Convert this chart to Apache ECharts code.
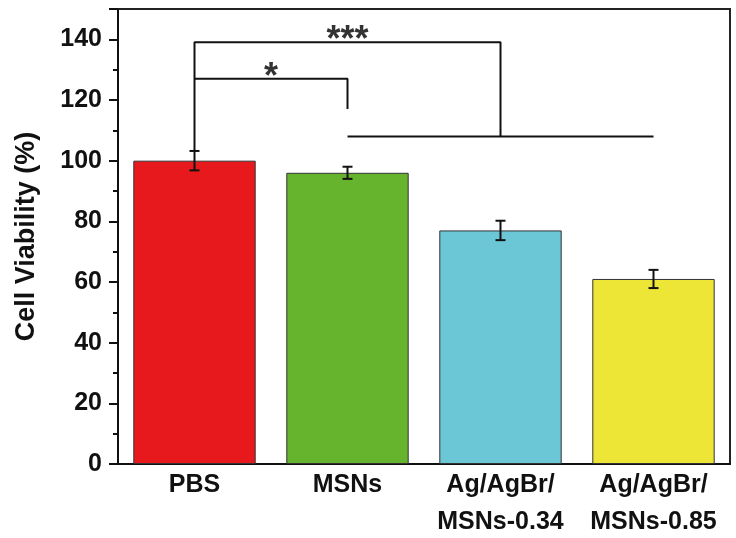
<!DOCTYPE html>
<html>
<head>
<meta charset="utf-8">
<script src="https://cdn.jsdelivr.net/npm/echarts@6/dist/echarts.min.js"></script>
<style>
  html, body { margin: 0; padding: 0; background: #fff; }
  #chart { width: 736px; height: 538px; }
</style>
</head>
<body>
<div id="chart"></div>
<script>
// 细胞活力数据
var categories = ['PBS', 'MSNs', 'Ag/AgBr/\nMSNs-0.34', 'Ag/AgBr/\nMSNs-0.85'];
var viability = [100, 96, 77, 61];
var errors = [3.2, 2, 3.2, 3];
var barColors = ['#e8191c', '#66b32e', '#6bc6d6', '#ede636'];

// 显著性标记（x 为类别序号）
var bracketOuter = [[0, 103.3], [0, 139], [2, 139], [2, 108]];
var bracketInner = [[0, 127], [1, 127], [1, 117]];
var bracketBase = [[1, 108], [3, 108]];
var starLabels = [[1, 139, '***'], [0.5, 127, '*']];

var FONT = '"Liberation Sans", Arial, sans-serif';

var chart = echarts.init(document.getElementById('chart'));

function lineSeries(data) {
    return {
        type: 'line',
        xAxisIndex: 1,
        data: data,
        symbol: 'none',
        lineStyle: { color: '#111', width: 2 },
        silent: true,
        z: 5
    };
}

var option = {
    animation: false,
    grid: {
        left: 118, right: 6, top: 9, bottom: 74,
        containLabel: false, outerBoundsMode: 'none',
        show: true, borderColor: '#222', borderWidth: 2, backgroundColor: 'transparent'
    },
    xAxis: [{
        type: 'category',
        data: categories,
        axisLine: { lineStyle: { color: '#111', width: 2 } },
        axisTick: { show: false },
        axisLabel: {
            color: '#111', fontFamily: FONT, fontWeight: 'bold', fontSize: 25,
            lineHeight: 37, margin: 3, interval: 0
        }
    }, {
        type: 'value', min: -0.5, max: 3.5, show: false
    }],
    yAxis: {
        type: 'value',
        min: 0, max: 150, interval: 20,
        name: 'Cell Viability (%)',
        nameLocation: 'middle',
        nameGap: 78,
        nameRotate: 90,
        nameTextStyle: { color: '#111', fontFamily: FONT, fontWeight: 'bold', fontSize: 27 },
        axisLine: { show: true, onZero: false, lineStyle: { color: '#111', width: 2 } },
        axisTick: { show: true, length: 9, lineStyle: { color: '#111', width: 2 } },
        minorTick: { show: true, splitNumber: 2, length: 5, lineStyle: { color: '#111', width: 2 } },
        splitLine: { show: false },
        axisLabel: {
            color: '#111', fontFamily: FONT, fontWeight: 'bold', fontSize: 25, margin: 16,
            formatter: function (v) { return v <= 140 ? v : ''; }
        }
    },
    series: [{
        type: 'bar',
        data: viability.map(function (v, i) {
            return { value: v, itemStyle: { color: barColors[i] } };
        }),
        barWidth: '80%',
        itemStyle: { borderColor: '#333', borderWidth: 1 }
    }, {
        // 误差棒
        type: 'custom',
        data: viability.map(function (v, i) { return [i, v - errors[i], v + errors[i]]; }),
        renderItem: function (params, api) {
            var lo = api.coord([api.value(0), api.value(1)]);
            var hi = api.coord([api.value(0), api.value(2)]);
            var w = 5;
            var style = { stroke: '#111', lineWidth: 2 };
            return {
                type: 'group',
                children: [
                    { type: 'line', shape: { x1: lo[0], y1: lo[1], x2: hi[0], y2: hi[1] }, style: style },
                    { type: 'line', shape: { x1: lo[0] - w, y1: lo[1], x2: lo[0] + w, y2: lo[1] }, style: style },
                    { type: 'line', shape: { x1: hi[0] - w, y1: hi[1], x2: hi[0] + w, y2: hi[1] }, style: style }
                ]
            };
        },
        z: 4
    },
    lineSeries(bracketOuter),
    lineSeries(bracketInner),
    lineSeries(bracketBase),
    {
        type: 'scatter',
        xAxisIndex: 1,
        data: starLabels,
        symbolSize: 0,
        silent: true,
        label: {
            show: true,
            position: 'top',
            distance: -17,
            formatter: function (p) { return p.data[2]; },
            color: '#000', fontFamily: FONT, fontWeight: 'bold', fontSize: 36
        }
    }]
};

chart.setOption(option);
</script>
</body>
</html>
